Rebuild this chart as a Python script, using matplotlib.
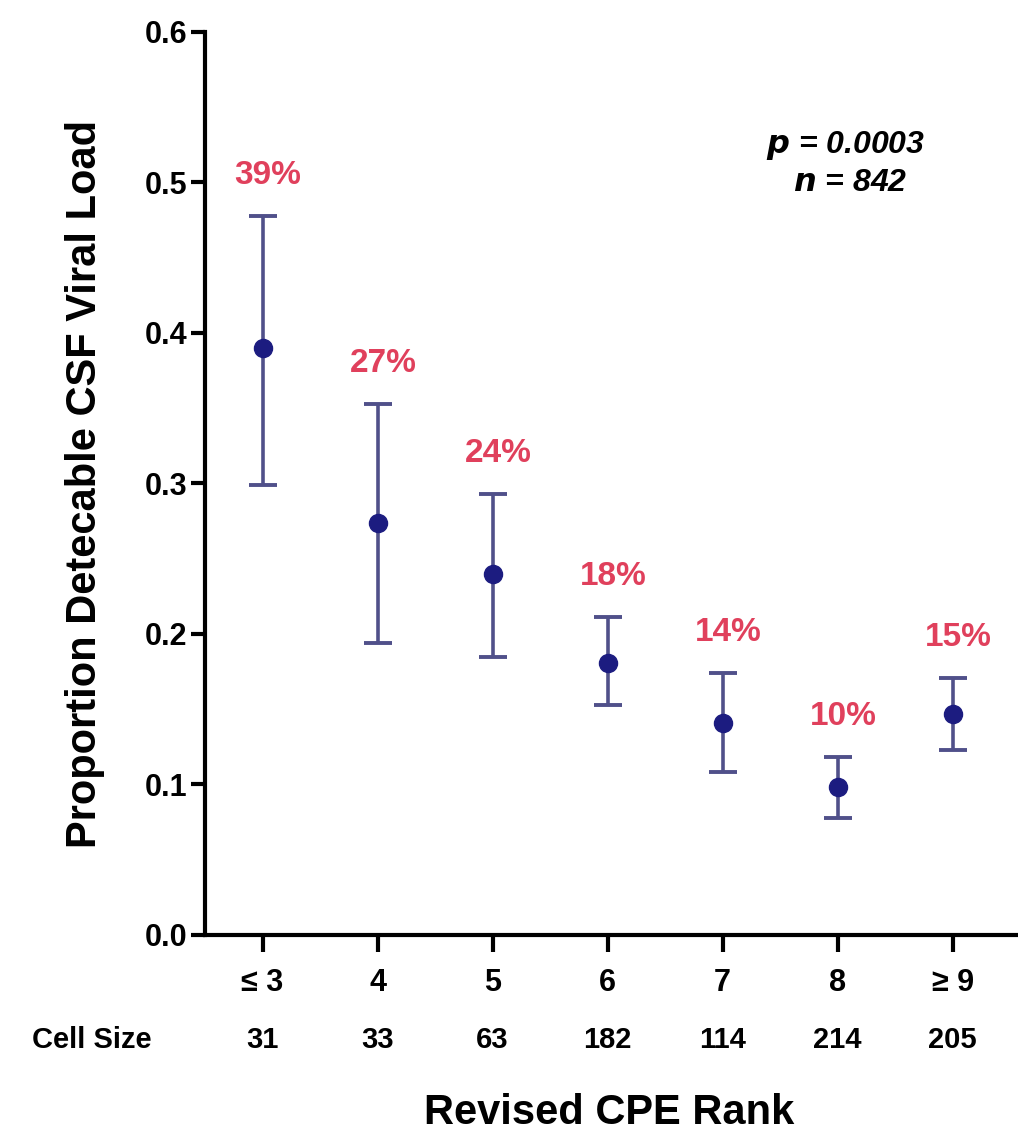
import matplotlib.pyplot as plt
import matplotlib.transforms as mtransforms

# CPE rank categories and cell sizes
ranks = ["≤ 3", "4", "5", "6", "7", "8", "≥ 9"]
cell_sizes = ["31", "33", "63", "182", "114", "214", "205"]

# proportion with detectable CSF viral load and 95% CI
proportion = [0.390, 0.274, 0.240, 0.181, 0.141, 0.098, 0.147]
ci_low = [0.299, 0.194, 0.185, 0.153, 0.108, 0.078, 0.123]
ci_high = [0.478, 0.353, 0.293, 0.211, 0.174, 0.118, 0.171]
pct_labels = ["39%", "27%", "24%", "18%", "14%", "10%", "15%"]

plt.rcParams["font.family"] = ["Liberation Sans", "DejaVu Sans"]

fig = plt.figure(figsize=(10.18, 11.37), dpi=100)
ax = fig.add_axes([0.2014, 0.1777, 0.7966, 0.7942])

x = list(range(len(ranks)))
yerr = [[p - lo for p, lo in zip(proportion, ci_low)],
        [hi - p for p, hi in zip(proportion, ci_high)]]

ax.errorbar(x, proportion, yerr=yerr, fmt="o", color="#1c1c80",
            ecolor="#50508a", elinewidth=2.6, capsize=10, capthick=2.8,
            markersize=13, zorder=3)

# percentage labels above each error bar
for xi, hi, lab in zip(x, ci_high, pct_labels):
    ax.annotate(lab, (xi, hi), xytext=(4, 18), textcoords="offset points",
                ha="center", va="bottom", color="#e0405c",
                fontsize=24, fontweight="bold")

ax.set_xlim(-0.5, 6.55)
ax.set_ylim(0, 0.6)
ax.set_yticks([0.0, 0.1, 0.2, 0.3, 0.4, 0.5, 0.6])
ax.set_yticklabels(["0.0", "0.1", "0.2", "0.3", "0.4", "0.5", "0.6"])
ax.set_xticks(x)
ax.set_xticklabels(ranks)

for side in ["top", "right"]:
    ax.spines[side].set_visible(False)
for side in ["left", "bottom"]:
    ax.spines[side].set_linewidth(3)

ax.tick_params(axis="y", length=10, width=3, labelsize=22, pad=3)
ax.tick_params(axis="x", length=12, width=3, labelsize=22, pad=12)
for lab in ax.get_xticklabels() + ax.get_yticklabels():
    lab.set_fontweight("bold")

ax.set_ylabel("Proportion Detecable CSF Viral Load", fontsize=30,
              fontweight="bold", labelpad=28)

# cell size row under the ticks
trans = mtransforms.blended_transform_factory(ax.transData, fig.transFigure)
for xi, n in zip(x, cell_sizes):
    ax.text(xi, 0.085, n, transform=trans, ha="center", va="center",
            fontsize=21, fontweight="bold", clip_on=False)
fig.text(0.09, 0.085, "Cell Size", ha="center", va="center",
         fontsize=21, fontweight="bold")

fig.text(0.598, 0.021, "Revised CPE Rank", ha="center", va="center",
         fontsize=30, fontweight="bold")

# statistics
ax.text(0.79, 0.874, "$\\mathbfit{p}$ = 0.0003", transform=ax.transAxes,
        ha="center", va="center", fontsize=23, fontweight="bold", style="italic")
ax.text(0.795, 0.833, "$\\mathbfit{n}$ = 842", transform=ax.transAxes,
        ha="center", va="center", fontsize=23, fontweight="bold", style="italic")

fig.savefig("out.png", dpi=100, facecolor="white")
